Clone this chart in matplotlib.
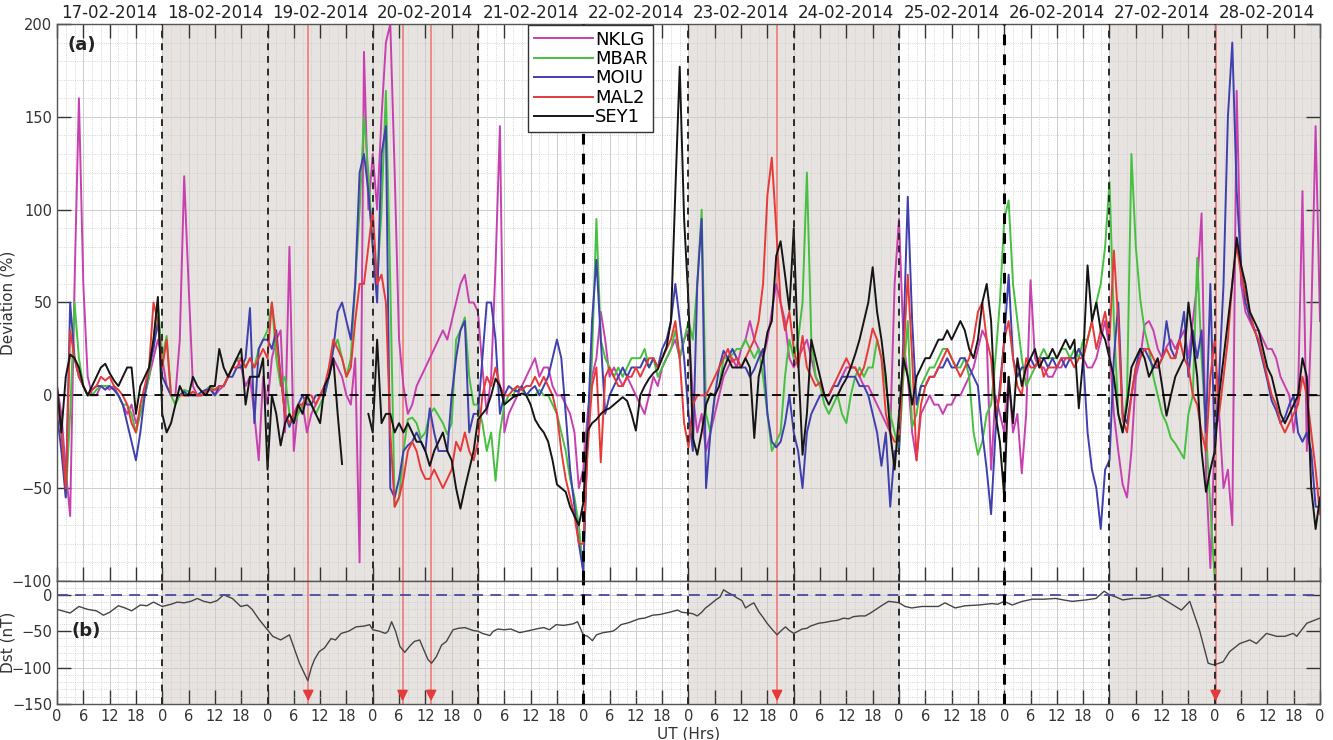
import numpy as np
import matplotlib
matplotlib.use("Agg")
import matplotlib.pyplot as plt
from matplotlib.ticker import MultipleLocator
import matplotlib.transforms as mtransforms

# ---------------- data ----------------
days = ["17-02-2014", "18-02-2014", "19-02-2014", "20-02-2014", "21-02-2014", "22-02-2014",
        "23-02-2014", "24-02-2014", "25-02-2014", "26-02-2014", "27-02-2014", "28-02-2014"]
shaded_days = [1, 2, 3, 6, 7, 10, 11]
hours = list(range(0, 289))          # UT hours from 17-02-2014 00:00
nan = np.nan

nklg = ([5, -10, -40, -65, 60, 160, 60, 10, 0, 0, 5, 5, 3, 5, 0, -5, -10, -5, -15, -10, 0, 10, 20, 30] +
        [20, 5, 0, 0, 30, 118, 60, 5, 0, 0, 3, 5, 0, 3, 5, 10, 15, 20, 15, 5, 10, -10, -35, 10] +
        [-5, 20, 30, 35, -20, 80, -30, -5, -5, -20, -10, -5, 0, 5, 10, 20, 15, 10, 0, -5, 20, -90, 185, 100] +
        [130, 100, 150, 190, 200, 120, 30, 5, -10, -5, 5, 10, 15, 20, 25, 30, 35, 30, 40, 50, 60, 65, 50, 50] +
        [45, 15, -10, 10, 70, 145, -20, -10, -5, 0, 5, 10, 15, 20, 10, 15, 15, 5, 0, 0, -5, -10, -20, -50] +
        [-40, -10, 10, 20, 45, 30, 10, 15, 10, 5, 10, 5, 0, -5, -10, 0, 10, 5, 15, 20, 25, 30, 20, 30] +
        [35, 0, -20, -10, -30, -20, -10, 0, 10, 15, 20, 15, 25, 30, 40, 30, 25, 20, 30, 45, 60, 50, 40, 20] +
        [15, 20, 25, 30, 20, 10, 5, 0, 0, 5, 5, 10, 15, 15, 15, 10, 5, 5, 0, -5, -10, -15, -20, 60] +
        [95, 30, 10, -20, -35, -10, -5, 0, -5, -5, -10, -5, -5, 0, 0, 5, 10, 15, 25, 35, 30, -40, 0, -10] +
        [-20, 10, -20, -10, -42, -10, 62, 20, 15, 15, 10, 10, 15, 15, 20, 20, 20, 25, 20, 15, 15, 20, 30, 40] +
        [25, -10, -30, -48, -55, -30, 10, 20, 38, 40, 35, 25, 20, 26, 30, 25, 30, 35, 20, 40, 60, 98, -40, -93] +
        [-20, -10, -50, -40, -70, 164, 60, 45, 40, 35, 35, 30, 25, 25, 20, 10, 5, 0, -20, 0, 110, -30, 40, 145, 40])

mbar = ([0, -20, -55, -10, 50, 20, 5, 0, 0, 3, 5, 5, 5, 3, 0, -5, -5, -10, -20, -10, 0, 10, 30, 50] +
        [20, 32, 0, -5, 0, 3, 2, 0, 0, 0, 3, 5, 3, 5, 5, 10, 15, 20, 20, 15, 20, 15, 25, 30] +
        [35, 50, 20, 5, 10, -10, -15, -10, -5, 0, -5, -10, -5, 0, 10, 25, 30, 20, 10, 20, 60, 100, 150, 120] +
        [80, 60, 100, 164, 60, -60, -55, -30, -13, -12, -15, -23, -20, -10, -7, -11, -15, -21, -15, 30, 35, 42, 10, -5] +
        [-5, -15, -30, -20, -46, -20, -5, 0, 0, 5, 3, 0, 0, 0, 3, 0, 0, -5, -10, -20, -30, -45, -55, -70] +
        [-95, -20, 20, 95, 30, 20, 15, 10, 15, 10, 15, 20, 20, 20, 25, 15, 20, 10, 15, 20, 25, 35, 20, 30] +
        [40, 30, 60, 100, -10, -20, 0, 5, 20, 20, 22, 25, 25, 30, 25, 20, 25, 10, -10, -30, -25, -20, 10, 30] +
        [20, 30, 50, 120, 30, 10, 5, -5, -10, -5, 0, -10, -15, 0, 10, 15, 10, 15, 15, 30, 20, 5, -10, -20] +
        [-30, 10, 40, -17, -10, 5, 10, 15, 15, 20, 25, 25, 20, 15, 15, 20, 10, -20, -32, -25, -10, -5, 20, 50] +
        [95, 105, 60, 40, 20, 5, 10, 15, 20, 25, 20, 20, 20, 25, 25, 20, 25, 20, 30, 30, 40, 50, 60, 80] +
        [115, 40, -10, -20, 0, 130, 80, 52, 35, 25, 10, 0, -10, -15, -23, -26, -30, -34, -10, 0, 74, 20, -20, -60] +
        [-100, nan, nan, nan, nan, nan, nan, nan, nan, nan, nan, nan, nan, nan, nan, nan, nan, nan, nan, nan, nan, nan, nan, nan, nan])

moiu = ([-10, -30, -55, 50, 20, 10, 5, 0, 3, 5, 5, 3, 5, 3, 0, -5, -15, -25, -35, -20, 0, 15, 25, 40] +
        [10, 5, 0, 0, 0, 2, 0, 0, 0, 2, 3, 3, 0, 5, 5, 10, 10, 15, 15, 20, 47, -15, 25, 30] +
        [30, 25, 35, 10, -10, -17, -10, -5, 0, -5, -5, 0, 0, 0, 10, 25, 45, 50, 40, 30, 60, 120, 130, 110] +
        [80, 50, 130, 145, -50, -55, -45, -30, -27, -25, -20, -25, -30, -7, -20, -30, -30, -30, 0, 20, 35, 40, -20, -10] +
        [-10, 20, 50, 50, 30, -10, 0, 5, 3, 2, 5, 0, 3, 5, 0, 5, 10, 20, 30, 20, -10, -40, -60, -80] +
        [-95, -20, 40, 73, 30, -10, 0, 5, 10, 15, 10, 15, 15, 15, 20, 15, 20, 15, 25, 30, 40, 60, 40, 20] +
        [-10, -30, 60, 95, -50, -20, 0, 15, 24, 20, 25, 20, 15, 15, 10, 14, 20, 25, -10, -25, -28, -25, -15, 0] +
        [-20, -30, -50, -20, -10, -5, 0, 0, 0, 5, 5, 10, 10, 10, 10, 5, 5, 0, -10, -20, -38, -20, -60, -30] +
        [-30, 30, 107, 40, -5, 5, 5, 10, 10, 15, 15, 20, 15, 15, 20, 20, 15, 10, 5, -20, -40, -64, -20, 5] +
        [30, 65, 20, 10, 15, 15, 20, 15, 20, 20, 15, 20, 15, 20, 15, 20, 20, 25, 20, -20, -40, -50, -72, -40] +
        [-35, 20, 50, -10, -15, 0, 15, 25, 25, 20, 15, 15, 20, 40, 25, 20, 30, 45, 10, 35, 20, 35, -20, 60] +
        [-30, 10, 60, 150, 190, 110, 70, 50, 42, 36, 28, 18, 8, -3, -8, -15, -12, -5, 0, -20, -25, -20, -30, -60, -60])

mal2 = ([0, -20, -50, 35, 20, 10, 5, 0, 3, 5, 10, 8, 10, 5, 3, 0, -5, -15, -20, -5, 5, 15, 50, 40] +
        [15, 30, 0, 0, 0, 0, 0, 2, 0, 0, 2, 3, 3, 5, 5, 10, 15, 15, 20, 15, 20, 15, 20, 25] +
        [20, 50, 30, 10, -10, -15, -10, -5, -5, 0, 0, -5, 0, 5, 15, 30, 25, 20, 10, 15, 40, 60, 60, 80] +
        [100, 60, 65, 50, -20, -60, -55, -45, -30, -25, -30, -40, -45, -45, -40, -45, -50, -45, -40, -25, -30, -20, -30, -35] +
        [-25, 0, 10, 5, 15, 5, 0, 0, 3, 5, 3, 5, 5, 10, 5, 10, 5, 0, -10, -30, -45, -55, -65, -80] +
        [-80, -30, 5, 15, -36, 10, 15, 10, 5, 5, 10, 10, 15, 10, 15, 20, 20, 15, 20, 25, 30, 40, 20, -15] +
        [-28, -5, 0, 0, 0, 5, 10, 15, 20, 25, 18, 20, 15, 20, 25, 30, 40, 60, 108, 128, 90, 50, 35, 45] +
        [25, 15, 32, 15, 10, 5, 7, 0, 0, 5, 10, 15, 20, 15, 15, 10, 15, 25, 36, 30, 20, -10, -20, -25] +
        [-25, 20, 65, 20, -35, -5, 5, 10, 10, 15, 20, 25, 20, 15, 10, 15, 20, 30, 45, 50, 30, 20, -10, 0] +
        [30, 40, 20, 5, 0, 20, 15, 15, 20, 10, 15, 15, 15, 20, 20, 20, 15, 20, 20, 30, 40, 25, 35, 45] +
        [30, 78, 40, -13, -20, 0, 15, 20, 25, 25, 20, 15, 20, 25, 20, 20, 30, 20, 15, 0, -5, -20, -30, 10] +
        [30, -10, 10, 30, 61, 81, 65, 55, 45, 35, 30, 20, 10, 0, -5, -15, -20, -15, -10, -5, 10, 0, -20, -40, -64])

sey1 = ([5, -20, 10, 22, 20, 15, 5, 0, 5, 10, 15, 17, 12, 8, 5, 10, 15, 15, -10, 5, 10, 15, 30, 53] +
        [-10, -20, -15, -5, 5, 0, 0, 10, 5, 2, 0, 5, 5, 25, 15, 10, 15, 20, 25, -5, 10, 10, 10, 20] +
        [-40, 0, -10, -27, -15, -10, -15, -5, -10, 0, -5, -10, -15, 5, 10, 20, -10, -37, nan, nan, nan, nan, nan, -10] +
        [-20, 30, -15, -10, -10, -20, -15, -20, -15, -20, -25, -25, -30, -38, -30, -25, -20, -30, -35, -50, -61, -50, -40, -30] +
        [-13, -10, -7, 0, 9, 5, -5, -3, -1, 0, 1, 0, -5, -13, -17, -20, -25, -35, -48, -50, -52, -60, -65, -70] +
        [-58, -19, -15, -13, -10, -8, -7, -5, -3, -1, -3, -10, -19, 0, 5, 9, 12, 14, 20, 26, 40, 110, 177, 95] +
        [50, -23, -32, -20, -5, 1, 0, 5, 14, 20, 15, 15, 15, 20, 15, -23, 10, 20, 34, 40, 75, 83, 65, 46] +
        [90, 20, -32, -10, 30, 20, 10, 0, -5, 0, 0, 5, 9, 15, 22, 30, 40, 50, 69, 45, 30, 10, -20, -40] +
        [-10, 20, 10, -5, 10, 15, 20, 20, 25, 30, 30, 35, 30, 35, 40, 35, 25, 20, 30, 50, 60, 40, -10, -25] +
        [-55, 10, -15, 20, 5, 15, 20, 25, 15, 20, 20, 25, 20, 25, 30, 25, 30, -7, 20, 70, 40, 50, 35, 30] +
        [20, 10, -10, -20, -5, 15, 20, 25, 20, 10, 15, 20, 5, -11, 0, 10, 15, 20, 50, 30, 10, -30, -52, -40] +
        [-30, 0, 20, 40, 60, 85, 70, 60, 45, 40, 35, 25, 15, 10, 0, -10, -15, -10, -5, 0, 20, 10, -50, -72, -55])

dst_hours = [0, 3, 5, 7, 9, 10.6, 12, 14, 15.5, 17, 19, 20.5, 22, 23, 24,
             26, 27.4, 29, 30.5, 32, 33.5, 35, 36.5, 38, 40, 41.9, 43.4, 44.5, 46.1, 48,
             49.2, 51, 53, 55.3, 57.2, 58, 58.7, 59.8, 61, 62.5, 63.5, 64.8, 66.5, 68.2, 70, 71.3, 72,
             73.5, 74.9, 75.5, 76.3, 77.2, 78.2, 79.3, 80.5, 81.5, 82.7, 83.6, 84.6, 85.4, 86.5, 87.7, 88.8, 90.3, 91.5, 93, 94.9,
             96, 97, 98.7, 99.5, 100.5, 102, 103.5, 105.5, 107, 108.5, 110, 111, 112.3, 113.8, 115.5, 117.6, 118.7, 120,
             121, 122.1, 123, 124.5, 126.7, 127.5, 128.6, 130.5, 132.7, 134, 135.8, 137.5, 139.6, 141.5, 142.5, 144.1,
             145, 146, 147, 147.9, 149, 150.2, 151.2, 152, 153, 154, 155, 156.2, 157, 158, 158.9, 160, 161, 161.9, 163, 164.2,
             165, 166.1, 167, 168,
             169, 169.9, 171, 171.8, 173.7, 175, 176.7, 178, 179.4, 180.5, 181.6, 183, 184.3, 185.5, 186.5, 188, 189.6, 191, 192,
             193.4, 194.9, 197.2, 199, 201, 202.5, 204.8, 207.1, 210.2, 213.2, 214.5, 216, 217.8, 220.1, 222.4, 225, 227.7,
             229.5, 231.5, 234.6, 236.9, 238.8, 240,
             241.5, 243, 245.3, 248.3, 251, 253.7, 256.4, 258.3, 260.5, 262.5, 263.6, 264.5, 265.9, 267.4, 269.7, 272, 273.5,
             275.8, 278.1, 280, 281.9, 282.7, 285, 288]
dst_values = [-20, -25, -16, -20, -22, -28, -24, -15, -18, -22, -14, -15, -10, -13, -16,
              -13, -10, -11, -9, -5, -9, -11, -8, 0, -5, -16, -14, -20, -34, -48,
              -57, -62, -55, -94, -118, -100, -89, -78, -73, -60, -62, -53, -50, -44, -43, -41, -48,
              -50, -53, -50, -37, -50, -71, -79, -70, -64, -62, -75, -89, -94, -85, -69, -64, -48, -46, -45, -49,
              -50, -53, -56, -50, -47, -48, -47, -52, -50, -48, -46, -45, -48, -41, -42, -40, -37, -55,
              -57, -63, -55, -52, -50, -47, -41, -38, -33, -32, -28, -27, -24, -21, -24, -25,
              -26, -29, -24, -18, -13, -7, -3, 7, 3, 0, -4, -8, -18, -14, -11, -23, -31, -39, -47, -55,
              -50, -44, -49, -53,
              -50, -47, -46, -43, -39, -38, -36, -35, -32, -33, -30, -29, -29, -25, -21, -15, -9, -10, -11,
              -16, -18, -16, -16, -16, -11, -18, -15, -14, -12, -13, -9, -14, -9, -6, -6, -5,
              -7, -9, -7, -5, 5, 0,
              -3, -7, -5, -5, -1, -11, -21, -9, -48, -94, -96, -95, -92, -78, -67, -62, -67,
              -53, -57, -57, -53, -57, -39, -32]

event_hours = [57.3, 78.8, 85.3, 164.2, 264.2]
xtick_labels = ["0", "6", "12", "18"] * 12 + ["0"]

series = [("NKLG", nklg, "#c840b0"), ("MBAR", mbar, "#46c040"), ("MOIU", moiu, "#3f3fae"),
          ("MAL2", mal2, "#e63a3a"), ("SEY1", sey1, "#151515")]

# ---------------- figure ----------------
W, H = 1333, 740
fig = plt.figure(figsize=(W / 100, H / 100), dpi=100)
left, right = 57, 1320
ax1 = fig.add_axes([left / W, 1 - 581 / H, (right - left) / W, (581 - 24) / H])
ax2 = fig.add_axes([left / W, 1 - 704 / H, (right - left) / W, (704 - 581) / H], sharex=ax1)

shade = "#e7e3e0"
for ax in (ax1, ax2):
    ax.set_facecolor("white")
    for d in shaded_days:
        ax.axvspan(24 * d, 24 * d + 24, color=shade, zorder=0, lw=0)
    ax.set_axisbelow(True)
    ax.grid(which="major", ls="-", color="#cdcdcd", lw=0.7)
    ax.grid(which="minor", ls=":", color="#c9c9c9", lw=0.6)
    ax.xaxis.set_major_locator(MultipleLocator(6))
    ax.xaxis.set_minor_locator(MultipleLocator(2))
    ax.yaxis.set_minor_locator(MultipleLocator(10))
    ax.tick_params(which="major", direction="in", length=10, width=1, top=True, right=True,
                   labelsize=10.5, colors="#333333")
    ax.tick_params(which="minor", length=0)
    for s in ax.spines.values():
        s.set_color("#555555")
        s.set_linewidth(1.0)
    # day boundaries
    for d in range(1, 12):
        h = 24 * d
        if h in (120, 216):
            ax.axvline(h, color="black", ls=(0, (3.5, 3)), lw=2.2, zorder=3)
        else:
            ax.axvline(h, color="#2a2a2a", ls=(0, (3.5, 3)), lw=1.4, zorder=3)
    # storm event lines
    for eh in event_hours:
        ax.axvline(eh, color="#f07a7a", lw=1.2, zorder=1.8)

ax2.tick_params(top=False)

# ---- panel (a) ----
handles = []
for name, vals, col in series:
    ln, = ax1.plot(hours, vals, color=col, lw=1.4, label=name, zorder=2)
    handles.append(ln)
ax1.axhline(0, color="black", ls=(0, (5, 4)), lw=1.3, zorder=2.5)
ax1.set_xlim(0, 288)
ax1.set_ylim(-100, 200)
ax1.set_yticks([-100, -50, 0, 50, 100, 150, 200])
ax1.tick_params(labelbottom=False)
ax1.set_ylabel("Deviation (%)", fontsize=11, color="#333333")
ax1.yaxis.set_label_coords(-0.033, 0.5)
ax1.text(0.008, 0.962, "(a)", transform=ax1.transAxes, fontsize=13, fontweight="bold",
         va="center", ha="left", color="#222222")

trans = mtransforms.blended_transform_factory(ax1.transData, ax1.transAxes)
for i, lab in enumerate(days):
    ax1.text(24 * i + 12, 1.004, lab, transform=trans, ha="center", va="bottom",
             fontsize=12, color="#222222")

leg = ax1.legend(handles=handles, loc="upper left", bbox_to_anchor=(0.373, 0.998),
                 fontsize=13, handlelength=3.3, handletextpad=0.1, borderpad=0.3,
                 labelspacing=0.08, fancybox=False, framealpha=1, edgecolor="#333333",
                 borderaxespad=0)
leg.get_frame().set_linewidth(1.0)
leg.set_zorder(5)

# ---- panel (b) ----
ax2.plot(dst_hours, dst_values, color="#454545", lw=1.0, zorder=2)
ax2.axhline(0, color="#4a4aa0", ls=(0, (6, 4)), lw=1.3, zorder=2.5)
ax2.set_ylim(-150, 19)
ax2.set_yticks([-150, -100, -50, 0])
ax2.set_xticks(list(range(0, 289, 6)))
ax2.set_xticklabels(xtick_labels)
ax2.set_ylabel("Dst (nT)", fontsize=11, color="#333333")
ax2.yaxis.set_label_coords(-0.033, 0.5)
ax2.set_xlabel("UT (Hrs)", fontsize=11, color="#333333", labelpad=2)
ax2.text(3.4, -50, "(b)", fontsize=13, fontweight="bold", va="center", ha="left", color="#222222")
for eh in event_hours:
    ax2.annotate("", xy=(eh, -150), xytext=(eh, -128),
                 arrowprops=dict(arrowstyle="-|>", color="#e63a3a", lw=1.2, mutation_scale=16),
                 zorder=4, annotation_clip=False)

fig.savefig("out.png", dpi=100)
